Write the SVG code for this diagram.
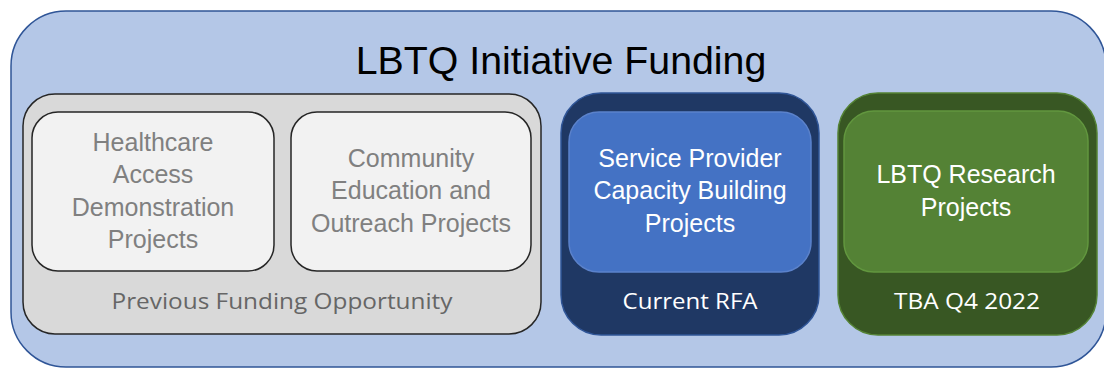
<svg xmlns="http://www.w3.org/2000/svg" width="1104" height="369" viewBox="0 0 1104 369">
<style>
.t{font-family:"Liberation Sans",Arial,sans-serif;text-anchor:middle}
.in{font-size:25px}
.lb{font-family:"Open Sans","Noto Sans",sans-serif;font-size:22px;text-anchor:middle}
</style>
<rect width="1104" height="369" fill="#ffffff"/>
<g id="outer">
<rect x="11" y="11" width="1095" height="356" rx="55" fill="#B4C7E7" stroke="#2F5597" stroke-width="1.5"/>
<text class="t" x="561" y="74" font-size="39.3" fill="#000">LBTQ Initiative Funding</text>
</g>
<g id="previous">
<rect x="23" y="94" width="518" height="240" rx="32" fill="#D9D9D9" stroke="#262626" stroke-width="1.5"/>
<text class="lb" x="282" y="309" fill="#666666" textLength="341" lengthAdjust="spacingAndGlyphs">Previous Funding Opportunity</text>
</g>
<g id="healthcare">
<rect x="32" y="112" width="242" height="159" rx="26" fill="#F2F2F2" stroke="#262626" stroke-width="1.5"/>
<text class="t in" fill="#808080"><tspan x="153" y="151">Healthcare</tspan><tspan x="153" y="183">Access</tspan><tspan x="153" y="216">Demonstration</tspan><tspan x="153" y="248">Projects</tspan></text>
</g>
<g id="community">
<rect x="291" y="112" width="240" height="159" rx="26" fill="#F2F2F2" stroke="#262626" stroke-width="1.5"/>
<text class="t in" fill="#808080"><tspan x="411" y="167">Community</tspan><tspan x="411" y="199">Education and</tspan><tspan x="411" y="232">Outreach Projects</tspan></text>
</g>
<g id="current">
<rect x="561" y="93" width="258" height="242" rx="40" fill="#1F3864" stroke="#2F5597" stroke-width="1.5"/>
<rect x="569" y="112" width="242" height="160" rx="30" fill="#4472C4" stroke="#5B82CB" stroke-width="1.5"/>
<text class="t in" fill="#ffffff"><tspan x="690" y="167">Service Provider</tspan><tspan x="690" y="199">Capacity Building</tspan><tspan x="690" y="232">Projects</tspan></text>
<text class="lb" x="690" y="309" fill="#ffffff" textLength="135" lengthAdjust="spacingAndGlyphs">Current RFA</text>
</g>
<g id="tba">
<rect x="838" y="93" width="259" height="242" rx="40" fill="#385723" stroke="#548235" stroke-width="1.5"/>
<rect x="844" y="111" width="244" height="161" rx="30" fill="#548235" stroke="#62973F" stroke-width="1.5"/>
<text class="t in" fill="#ffffff"><tspan x="966" y="183">LBTQ Research</tspan><tspan x="966" y="216">Projects</tspan></text>
<text class="lb" x="967" y="309" fill="#ffffff" textLength="146" lengthAdjust="spacingAndGlyphs">TBA Q4 2022</text>
</g>
<g id="connectors"></g>
</svg>
